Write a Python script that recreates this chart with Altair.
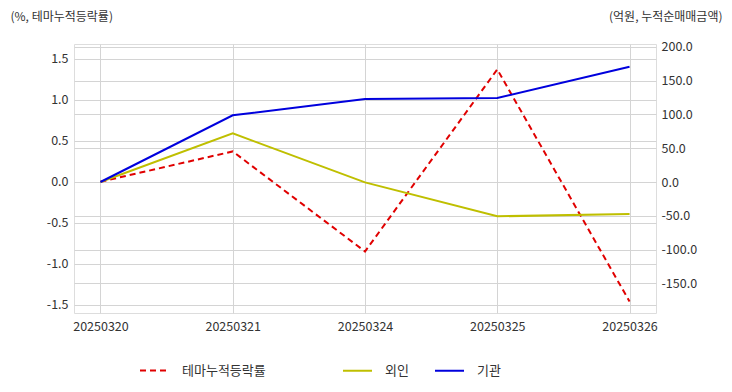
import altair as alt
import pandas as pd

dates = ["20250320", "20250321", "20250324", "20250325", "20250326"]
theme = [0.0, 0.37, -0.85, 1.37, -1.46]
foreign = [0.0, 72.0, -0.5, -50.8, -47.4]
inst = [0.0, 98.8, 123.0, 124.4, 170.8]

left_ticks = [-1.5, -1.0, -0.5, 0.0, 0.5, 1.0, 1.5]
right_ticks = [-150, -100, -50, 0, 50, 100, 150, 200]

df_theme = pd.DataFrame({"date": dates, "value": theme, "series": ["테마누적등락률"] * len(dates)})
df_flow = pd.DataFrame({
    "date": dates * 2,
    "value": foreign + inst,
    "series": ["외인"] * len(dates) + ["기관"] * len(dates),
})

FONT = "Noto Sans CJK KR"
TXT = "#333333"
GRID = "#d4d4d4"

x_enc = alt.X(
    "date:N", sort=dates,
    scale=alt.Scale(type="point", padding=0.2),
    axis=alt.Axis(title=None, labelAngle=0, grid=True, gridColor=GRID, ticks=False,
                  domain=False, labelPadding=7, labelFontSize=12.5, labelColor=TXT, labelFont=FONT),
)

left = alt.Chart(df_theme).mark_line(strokeDash=[6, 4], strokeWidth=2).encode(
    x=x_enc,
    y=alt.Y(
        "value:Q",
        scale=alt.Scale(domain=[-1.6, 1.68], nice=False, zero=False),
        axis=alt.Axis(
            values=left_ticks, labelExpr="replace(format(datum.value, '.1f'), '\u2212', '-')",
            grid=True, gridColor=GRID, ticks=False, domain=False, labelPadding=6,
            labelFontSize=12.5, labelColor=TXT, labelFont=FONT,
            title="(%, 테마누적등락률)", titleAngle=0, titleX=-64, titleY=-28,
            titleAlign="left", titleBaseline="middle", titleFontWeight="normal",
            titleFontSize=12, titleColor=TXT, titleFont=FONT,
        ),
    ),
    color=alt.Color(
        "series:N",
        scale=alt.Scale(domain=["테마누적등락률"], range=["#e00000"]),
        legend=alt.Legend(
            title=None, orient="none", legendX=65, legendY=311,
            symbolType="stroke", symbolDash=[6, 4], symbolStrokeWidth=2, symbolSize=841,
            labelOffset=12, labelFontSize=13, labelColor=TXT, labelFont=FONT,
        ),
    ),
)

right = alt.Chart(df_flow).mark_line(strokeWidth=2).encode(
    x=x_enc,
    y=alt.Y(
        "value:Q",
        scale=alt.Scale(domain=[-194, 204.4], nice=False, zero=False),
        axis=alt.Axis(
            orient="right", values=right_ticks,
            labelExpr="replace(format(datum.value, '.1f'), '\u2212', '-')",
            grid=True, gridColor=GRID, ticks=False, domain=False, labelPadding=5,
            labelFontSize=12.5, labelColor=TXT, labelFont=FONT,
            title="(억원, 누적순매매금액)", titleAngle=0, titleX=66, titleY=-28,
            titleAlign="right", titleBaseline="middle", titleFontWeight="normal",
            titleFontSize=12, titleColor=TXT, titleFont=FONT,
        ),
    ),
    color=alt.Color(
        "series:N", sort=["외인", "기관"],
        scale=alt.Scale(domain=["외인", "기관"], range=["#bfbf00", "#0000dd"]),
        legend=alt.Legend(
            title=None, orient="none", legendX=268, legendY=311, direction="horizontal",
            symbolType="stroke", symbolStrokeWidth=2, symbolSize=841,
            labelOffset=12, columnPadding=22, labelFontSize=13, labelColor=TXT, labelFont=FONT,
        ),
    ),
)

chart = alt.layer(left, right).resolve_scale(y="independent", color="independent").properties(
    width=582, height=269,
    autosize=alt.AutoSizeParams(type="none"),
    padding={"left": 66, "top": 36, "right": 68, "bottom": 71},
).configure_view(stroke="#cccccc", strokeWidth=2).configure(background="white")

chart.save("out.html", embed_options={"renderer": "svg", "actions": False})
